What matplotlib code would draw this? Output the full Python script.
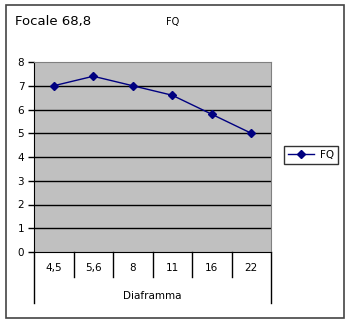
import matplotlib
matplotlib.use("Agg")
import matplotlib.pyplot as plt
from matplotlib.patches import Rectangle

#Data
categories = ["4,5", "5,6", "8", "11", "16", "22"]
fq = [7.0, 7.4, 7.0, 6.6, 5.8, 5.0]

plt.rcParams["font.family"] = ["Verdana", "DejaVu Sans"]

fig = plt.figure(figsize=(3.5, 3.23), dpi=100)

#Outer frame
fig.patches.append(Rectangle((6/350, 1-318/323), 338/350, 313/323,
                             transform=fig.transFigure, fill=False,
                             edgecolor="#444444", linewidth=1.2))

ax = fig.add_axes([34/350, 1-252/323, 237/350, 190/323])
ax.set_facecolor("#c0c0c0")

x = list(range(len(categories)))
ax.plot(x, fq, color="#000080", marker="D", markersize=4, linewidth=1, label="FQ", zorder=3)

ax.set_xlim(-0.5, len(categories)-0.5)
ax.set_ylim(0, 8)
ax.set_yticks(range(0, 9))
ax.tick_params(axis="y", length=4, width=1, labelsize=7.5, pad=3)
for v in range(1, 8):
  ax.axhline(v, color="black", linewidth=1, zorder=1)

ax.set_xticks([])
for s in ["top", "right"]:
  ax.spines[s].set_color("#808080")
ax.spines["left"].set_color("black")
ax.spines["bottom"].set_color("black")

#Category table under the axis
t = ax.get_xaxis_transform()
axis_h = 190
for i in range(1, len(categories)):
  ax.plot([i-0.5, i-0.5], [0, -25/axis_h], color="black", linewidth=1, transform=t, clip_on=False)
for xi in [-0.5, len(categories)-0.5]:
  ax.plot([xi, xi], [0, -51/axis_h], color="black", linewidth=1, transform=t, clip_on=False)
for i, c in enumerate(categories):
  ax.text(i, -16/axis_h, c, transform=t, ha="center", va="center", fontsize=7.5)
ax.text((len(categories)-1)/2, -44/axis_h, "Diaframma", transform=t, ha="center", va="center", fontsize=7.5)

#Titles
fig.text(15/350, 1-22/323, "Focale 68,8", fontsize=9.5, va="center", ha="left")
fig.text(166/350, 1-22/323, "FQ", fontsize=7, va="center", ha="left")

#Legend
fig.legend(loc="center", bbox_to_anchor=(311/350, 1-155/323), fontsize=7.5,
           frameon=True, fancybox=False, edgecolor="black", handlelength=2.5,
           borderpad=0.4, handletextpad=0.5)

fig.savefig("out.png", dpi=100)
